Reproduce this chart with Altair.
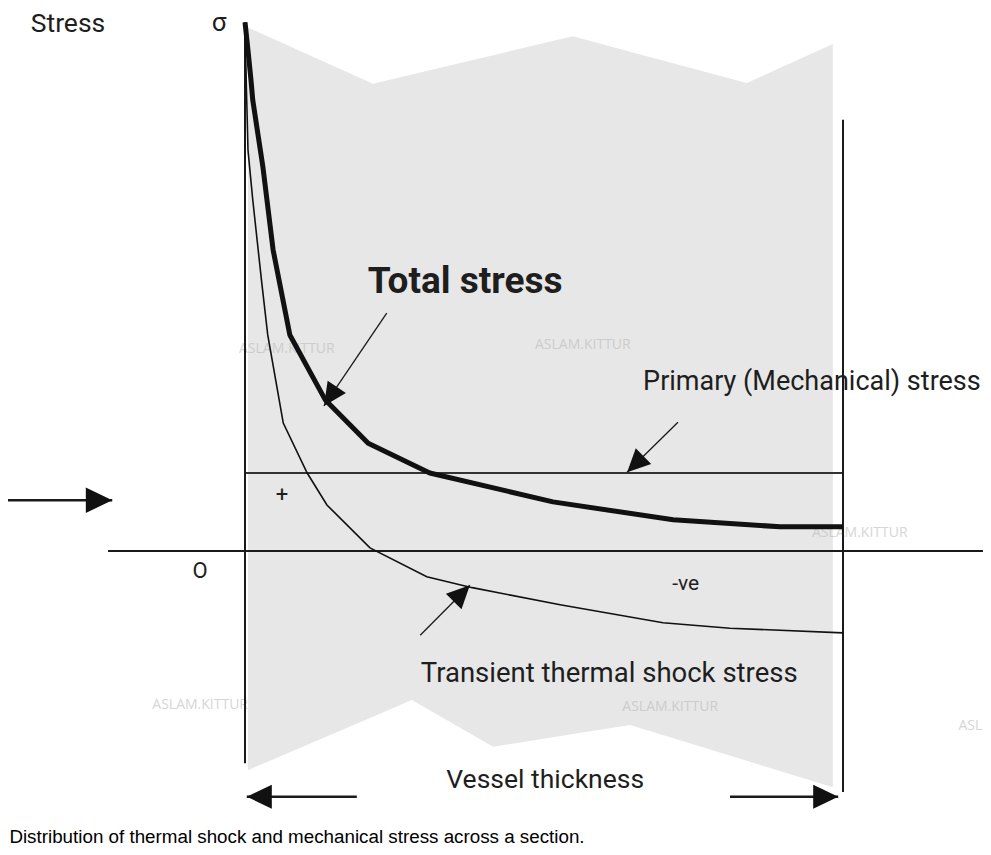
import math
import numpy as np
import pandas as pd
import altair as alt

# ---------------- data (x: % of wall thickness from inner surface, y: stress; primary stress = 10)
total_x = [0, 0.5, 1.0, 1.3, 3.0, 4.7, 7.5, 13.4, 20.6, 30.9, 51.5, 71.6, 89.5, 100]
total_y = [67.8, 64.2, 60.4, 57.8, 49.2, 38.6, 27.7, 19.4, 13.8, 10.0, 6.3, 4.0, 3.1, 3.1]

thermal_x = [0, 0.5, 1.3, 2.8, 3.8, 6.4, 10.4, 13.7, 20.9, 30.4, 38.0, 52.7, 69.9, 81.1, 100]
thermal_y = [66.8, 51.4, 45.0, 34.4, 27.7, 16.4, 10.0, 5.9, 0.4, -3.3, -4.7, -6.9, -9.2, -9.9, -10.5]

primary_x = [0, 100]
primary_y = [10, 10]

# shaded section outline (broken-off wall piece)
sect_top_x = [0.5, 21.4, 54.8, 83.9, 98.3]
sect_top_y = [67.1, 59.9, 66.0, 60.0, 65.0]
sect_bot_x = [0.5, 27.9, 41.5, 64.4, 98.3]
sect_bot_y = [-28.1, -19.1, -25.1, -22.3, -30.3]

# ---------------- frame
W, H = 975, 839
X_DOM = [-39.632, 123.411]
Y_DOM = [-37.949, 69.615]
SX = W / (X_DOM[1] - X_DOM[0])
SY = H / (Y_DOM[1] - Y_DOM[0])

xs = alt.Scale(domain=X_DOM, nice=False, zero=False)
ys = alt.Scale(domain=Y_DOM, nice=False, zero=False)
X = lambda f: alt.X(f, type="quantitative", scale=xs, axis=None)
Y = lambda f: alt.Y(f, type="quantitative", scale=ys, axis=None)

# shaded section
ux = sorted(set(sect_top_x) | set(sect_bot_x))
sect = pd.DataFrame({
    "x": ux,
    "top": np.interp(ux, sect_top_x, sect_top_y),
    "bot": np.interp(ux, sect_bot_x, sect_bot_y),
})
section = alt.Chart(sect).mark_area(color="#e7e7e7", interpolate="linear").encode(
    x=X("x"), y=Y("top"), y2="bot")

# watermarks
wm = pd.DataFrame({
    "x": [7.0, 56.5, 102.8, -7.5, 71.1],
    "y": [25.9, 26.4, 2.3, -19.7, -20.0],
    "t": ["ASLAM.KITTUR"] * 5,
})
wm_layer = alt.Chart(wm).mark_text(font="Open Sans", fontSize=14, color="#bbbbbb", opacity=0.6,
                                   baseline="middle", align="center").encode(x=X("x"), y=Y("y"), text="t")
wm2 = alt.Chart(pd.DataFrame({"x": [119.3], "y": [-22.4], "t": ["ASL"]})).mark_text(
    font="Open Sans", fontSize=14, color="#bbbbbb", opacity=0.6, baseline="middle", align="left"
).encode(x=X("x"), y=Y("y"), text="t")

# straight lines: axes, primary level, arrow shafts
rules = pd.DataFrame([
    # x, y, x2, y2, width
    (0, 67.8, 0, -27.2, 2.0),        # inner surface / stress axis
    (100, 55.3, 100, -30.9, 2.0),    # outer surface
    (-22.9, 0, 123.4, 0, 2.0),       # zero stress line
    (23.7, 30.5, 13.2, 18.6, 1.3),   # arrow to total stress
    (72.4, 16.5, 63.9, 10.1, 1.3),   # arrow to primary stress
    (29.3, -10.8, 37.6, -4.4, 1.3),  # arrow to thermal stress
    (18.7, -31.5, 0.3, -31.5, 2.5),  # thickness arrow left
    (81.1, -31.5, 99.2, -31.5, 2.5), # thickness arrow right
    (-40.1, 6.5, -22.2, 6.5, 2.5),   # side arrow
], columns=["x", "y", "x2", "y2", "w"])
rule_layer = alt.Chart(rules).mark_rule(color="#1a1a1a").encode(
    x=X("x"), y=Y("y"), x2="x2", y2="y2", strokeWidth=alt.StrokeWidth("w:Q", scale=None))

prim = pd.DataFrame({"x": primary_x, "y": primary_y})
prim_layer = alt.Chart(prim).mark_line(color="#333333", strokeWidth=2).encode(x=X("x"), y=Y("y"))

tot = pd.DataFrame({"x": total_x, "y": total_y, "i": range(len(total_x))})
tot_layer = alt.Chart(tot).mark_line(color="#111111", strokeWidth=5, strokeJoin="round").encode(
    x=X("x"), y=Y("y"), order="i:Q")

th = pd.DataFrame({"x": thermal_x, "y": thermal_y, "i": range(len(thermal_x))})
th_layer = alt.Chart(th).mark_line(color="#111111", strokeWidth=1.6).encode(
    x=X("x"), y=Y("y"), order="i:Q")

# arrowheads (tip at the shaft end)
heads = []
for (x1, y1, x2, y2, _w), size in zip(rules.values[3:], [2100, 2100, 2100, 2500, 2500, 2800]):
    ang = math.degrees(math.atan2((x2 - x1) * SX, (y2 - y1) * SY)) % 360
    heads.append((x2, y2, ang, size))
hd = pd.DataFrame(heads, columns=["x", "y", "a", "s"])
head_layer = alt.Chart(hd).mark_point(shape="M0,0L-0.48,1L0.48,1Z", filled=True, color="#111111",
                                      opacity=1, strokeWidth=0).encode(
    x=X("x"), y=Y("y"), angle=alt.Angle("a:Q", scale=None), size=alt.Size("s:Q", scale=None))

# labels
def label(x, y, t, size, weight="normal", align="center", baseline="alphabetic",
          font="Roboto", color="#1e1e1e"):
    d = pd.DataFrame({"x": [x], "y": [y], "t": [t]})
    return alt.Chart(d).mark_text(font=font, fontSize=size, fontWeight=weight, align=align,
                                  baseline=baseline, color=color).encode(x=X("x"), y=Y("y"), text="t")

labels = [
    label(-29.6, 66.5, "Stress", 26.5),
    label(-4.35, 66.7, "σ", 26),
    label(36.8, 33.1, "Total stress", 37, weight="bold"),
    label(94.8, 20.6, "Primary (Mechanical) stress", 27),
    label(6.2, 7.2, "+", 22, baseline="middle"),
    label(-7.5, -3.5, "O", 22),
    label(73.7, -5.0, "-ve", 21),
    label(60.9, -16.8, "Transient thermal shock stress", 27.5),
    label(50.2, -30.4, "Vessel thickness", 26.5),
    label(-39.4, -37.4, "Distribution of thermal shock and mechanical stress across a section.",
          18.8, align="left", font="Liberation Sans", color="#000000"),
]

chart = alt.layer(section, wm_layer, wm2, prim_layer, rule_layer, th_layer, tot_layer, head_layer,
                  *labels).properties(
    width=W, height=H, autosize=alt.AutoSizeParams(type="none"), padding=0
).configure_view(stroke=None)

chart.save("out.html", embed_options={"renderer": "svg", "actions": False})
